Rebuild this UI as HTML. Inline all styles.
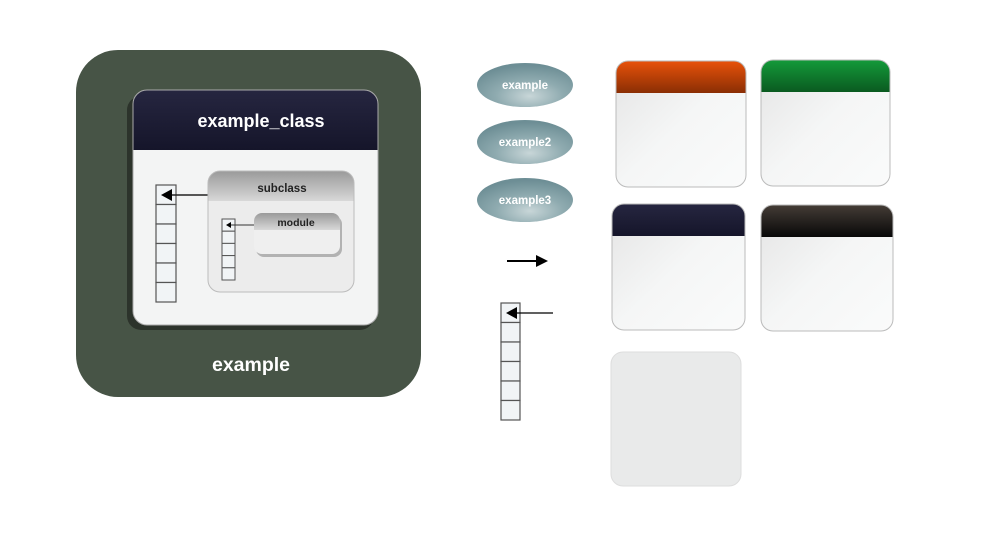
<!DOCTYPE html>
<html><head><meta charset="utf-8"><style>body{margin:0;background:#fff}svg{display:block}text{font-family:"Liberation Sans",sans-serif;font-weight:bold}</style></head><body>
<svg width="1000" height="534" viewBox="0 0 1000 534" xmlns="http://www.w3.org/2000/svg">
<defs>
<linearGradient id="body" x1="0" y1="0" x2="1" y2="1"><stop offset="0" stop-color="#e4e4e4"/><stop offset="0.5" stop-color="#f5f6f6"/><stop offset="1" stop-color="#fafbfb"/></linearGradient>
<linearGradient id="or" x1="0" y1="0" x2="0" y2="1"><stop offset="0" stop-color="#e8520a"/><stop offset="1" stop-color="#8a2e04"/></linearGradient>
<linearGradient id="gr" x1="0" y1="0" x2="0" y2="1"><stop offset="0" stop-color="#149a3a"/><stop offset="1" stop-color="#0a5a20"/></linearGradient>
<linearGradient id="nv" x1="0" y1="0" x2="0" y2="1"><stop offset="0" stop-color="#262640"/><stop offset="1" stop-color="#15152a"/></linearGradient>
<linearGradient id="bk" x1="0" y1="0" x2="0" y2="1"><stop offset="0" stop-color="#443c36"/><stop offset="1" stop-color="#080808"/></linearGradient>
<linearGradient id="gy" x1="0" y1="0" x2="0" y2="1"><stop offset="0" stop-color="#9a9a9a"/><stop offset="1" stop-color="#d8d8d8"/></linearGradient>
<radialGradient id="el" cx="0.55" cy="0.75" r="0.7"><stop offset="0" stop-color="#c8d6d8"/><stop offset="0.5" stop-color="#8fabb0"/><stop offset="1" stop-color="#6d8e95"/></radialGradient>
<clipPath id="c1"><rect x="616" y="61" width="130" height="126" rx="12"/></clipPath>
<clipPath id="c2"><rect x="761" y="60" width="129" height="126" rx="12"/></clipPath>
<clipPath id="c3"><rect x="612" y="204" width="133" height="126" rx="12"/></clipPath>
<clipPath id="c4"><rect x="761" y="205" width="132" height="126" rx="12"/></clipPath>
<clipPath id="c5"><rect x="133" y="90" width="245" height="235" rx="14"/></clipPath>
<clipPath id="c6"><rect x="208" y="171" width="146" height="121" rx="12"/></clipPath>
<clipPath id="c7"><rect x="254" y="213" width="86" height="41" rx="8"/></clipPath>
</defs>
<rect x="76" y="50" width="345" height="347" rx="42" fill="#475446"/>
<rect x="127" y="96" width="247" height="234" rx="14" fill="#2c332b"/>
<g clip-path="url(#c5)"><rect x="133" y="90" width="245" height="235" fill="#f3f4f4"/><rect x="133" y="90" width="245" height="60" fill="url(#nv)"/></g>
<rect x="133" y="90" width="245" height="235" rx="14" fill="none" stroke="#aaa"/>
<text x="261" y="127" font-size="18" fill="#fff" text-anchor="middle">example_class</text>
<text x="251" y="371" font-size="19.5" fill="#fff" text-anchor="middle">example</text>
<g fill="#f1f4f6" stroke="#555" stroke-width="1.2">
<rect x="156" y="185" width="20" height="19.5"/><rect x="156" y="204.5" width="20" height="19.5"/><rect x="156" y="224" width="20" height="19.5"/><rect x="156" y="243.5" width="20" height="19.5"/><rect x="156" y="263" width="20" height="19.5"/><rect x="156" y="282.5" width="20" height="19.5"/>
</g>
<line x1="208" y1="195" x2="170" y2="195" stroke="#222" stroke-width="1.5"/><polygon points="161,195 172,189 172,201" fill="#000"/>
<g clip-path="url(#c6)"><rect x="208" y="171" width="146" height="121" fill="#ececec"/><rect x="208" y="171" width="146" height="30" fill="url(#gy)"/></g>
<rect x="208" y="171" width="146" height="121" rx="12" fill="none" stroke="#bbb"/>
<text x="282" y="192" font-size="11.5" fill="#222" text-anchor="middle">subclass</text>
<g fill="#f1f4f6" stroke="#555" stroke-width="1">
<rect x="222" y="219" width="13" height="12.2"/><rect x="222" y="231.2" width="13" height="12.2"/><rect x="222" y="243.4" width="13" height="12.2"/><rect x="222" y="255.6" width="13" height="12.2"/><rect x="222" y="267.8" width="13" height="12.2"/>
</g>
<line x1="254" y1="225" x2="230" y2="225" stroke="#333"/><polygon points="226,225 231,222 231,228" fill="#000"/>
<rect x="256" y="216" width="86" height="41" rx="8" fill="#777" opacity="0.5"/>
<g clip-path="url(#c7)"><rect x="254" y="213" width="86" height="41" fill="#efefef"/><rect x="254" y="213" width="86" height="17" fill="url(#gy)"/></g>
<text x="296" y="226" font-size="10.5" fill="#222" text-anchor="middle">module</text>
<ellipse cx="525" cy="85" rx="48" ry="22" fill="url(#el)"/><text x="525" y="89" font-size="11.5" fill="#fff" text-anchor="middle">example</text>
<ellipse cx="525" cy="142" rx="48" ry="22" fill="url(#el)"/><text x="525" y="146" font-size="11.5" fill="#fff" text-anchor="middle">example2</text>
<ellipse cx="525" cy="200" rx="48" ry="22" fill="url(#el)"/><text x="525" y="204" font-size="11.5" fill="#fff" text-anchor="middle">example3</text>
<line x1="507" y1="261" x2="538" y2="261" stroke="#000" stroke-width="2"/><polygon points="548,261 536,255 536,267" fill="#000"/>
<g fill="#f1f4f6" stroke="#555" stroke-width="1.2">
<rect x="501" y="303" width="19" height="19.5"/><rect x="501" y="322.5" width="19" height="19.5"/><rect x="501" y="342" width="19" height="19.5"/><rect x="501" y="361.5" width="19" height="19.5"/><rect x="501" y="381" width="19" height="19.5"/><rect x="501" y="400.5" width="19" height="19.5"/>
</g>
<line x1="553" y1="313" x2="514" y2="313" stroke="#000" stroke-width="1.2"/><polygon points="506,313 517,307 517,319" fill="#000"/>
<g clip-path="url(#c1)"><rect x="616" y="61" width="130" height="126" fill="url(#body)"/><rect x="616" y="61" width="130" height="32" fill="url(#or)"/></g>
<rect x="616" y="61" width="130" height="126" rx="12" fill="none" stroke="#bbb"/>
<g clip-path="url(#c2)"><rect x="761" y="60" width="129" height="126" fill="url(#body)"/><rect x="761" y="60" width="129" height="32" fill="url(#gr)"/></g>
<rect x="761" y="60" width="129" height="126" rx="12" fill="none" stroke="#bbb"/>
<g clip-path="url(#c3)"><rect x="612" y="204" width="133" height="126" fill="url(#body)"/><rect x="612" y="204" width="133" height="32" fill="url(#nv)"/></g>
<rect x="612" y="204" width="133" height="126" rx="12" fill="none" stroke="#bbb"/>
<g clip-path="url(#c4)"><rect x="761" y="205" width="132" height="126" fill="url(#body)"/><rect x="761" y="205" width="132" height="32" fill="url(#bk)"/></g>
<rect x="761" y="205" width="132" height="126" rx="12" fill="none" stroke="#bbb"/>
<rect x="611" y="352" width="130" height="134" rx="12" fill="#e9eaea" stroke="#ddd"/>
</svg>
</body></html>
